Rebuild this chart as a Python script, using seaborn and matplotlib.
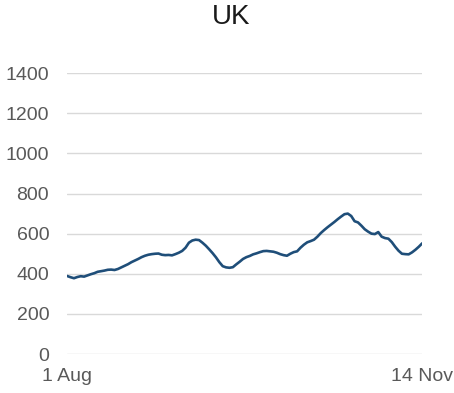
import matplotlib
matplotlib.use("Agg")
import matplotlib.pyplot as plt
import seaborn as sns
import pandas as pd

values = [389, 383, 378, 384, 388, 386, 392, 398, 403, 410,
          413, 416, 420, 421, 419, 424, 432, 440, 448, 458,
          466, 474, 483, 490, 495, 498, 500, 501, 495, 493,
          494, 492, 498, 505, 514, 530, 555, 566, 570, 568,
          555, 540, 522, 503, 482, 458, 438, 432, 430, 433,
          447, 460, 474, 483, 489, 497, 502, 508, 513, 514,
          512, 510, 505, 498, 493, 490, 500, 508, 512, 530,
          545, 557, 563, 570, 585, 603, 618, 632, 645, 658,
          672, 685, 697, 700, 688, 662, 656, 640, 622, 610,
          600, 598, 608, 585, 578, 575, 558, 535, 515, 500,
          498, 497, 507, 520, 535, 552]
dates = pd.date_range("2020-08-01", periods=len(values), freq="D")
x_tick_labels = ["1 Aug", "14 Nov"]
y_ticks = [0, 200, 400, 600, 800, 1000, 1200, 1400]

df = pd.DataFrame({"date": dates, "value": values})

sns.set_theme(style="white")
plt.rcParams["font.family"] = ["Liberation Sans", "DejaVu Sans"]

fig = plt.figure(figsize=(4.54, 3.93), dpi=100)
ax = fig.add_axes([0.148, 0.099, 0.782, 0.715])
sns.lineplot(data=df, x="date", y="value", ax=ax, color="#1f4e79", linewidth=1.9)

ax.set_ylim(0, 1400)
ax.set_yticks(y_ticks)
ax.set_xlim(dates[0], dates[-1])
ax.set_xticks([dates[0], dates[-1]])
ax.set_xticklabels(x_tick_labels)
ax.grid(axis="y", color="#d9d9d9", linewidth=1)
ax.set_axisbelow(True)
for s in ax.spines.values():
    s.set_visible(False)
ax.tick_params(axis="both", length=0, labelsize=14, colors="#595959")
ax.tick_params(axis="y", pad=13)
ax.tick_params(axis="x", pad=10)
ax.set_xlabel("")
ax.set_ylabel("")
fig.text(0.51, 0.957, "UK", ha="center", va="center", fontsize=20, color="#1a1a1a")

fig.savefig("out.png", dpi=100)
